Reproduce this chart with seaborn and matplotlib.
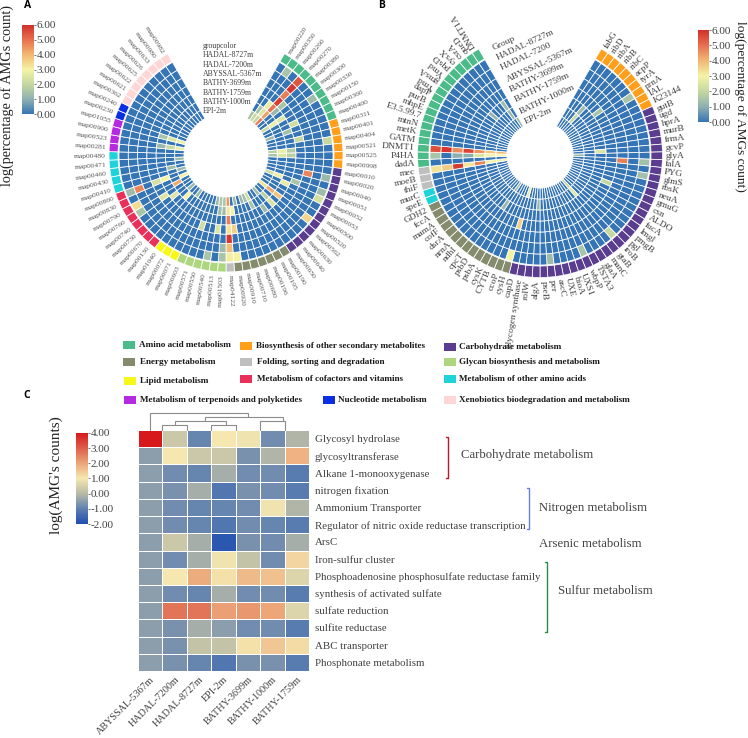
import numpy as np
import pandas as pd
import seaborn as sns
import matplotlib.pyplot as plt
from matplotlib.cm import ScalarMappable
from matplotlib.colors import Normalize
from matplotlib.patches import Rectangle

SERIF = 'Liberation Serif'
TEXT_GRAY = '#404040'

# groups, in the order they go round the circles
group_names = ['Amino acid metabolism', 'Biosynthesis of other secondary metabolites', 'Carbohydrate metabolism',
               'Energy metabolism', 'Folding, sorting and degradation', 'Glycan biosynthesis and metabolism',
               'Lipid metabolism', 'Metabolism of cofactors and vitamins', 'Metabolism of other amino acids',
               'Metabolism of terpenoids and polyketides', 'Nucleotide metabolism',
               'Xenobiotics biodegradation and metabolism']
group_colors = ['#4cbb8a', '#ff9f1c', '#5b3d8f', '#858c6e', '#bfbfbf', '#aed67f',
                '#f7f71a', '#e8305a', '#1fd3d8', '#b52ade', '#0a2fe0', '#ffd6d6']

depths = ['HADAL-8727m', 'HADAL-7200m', 'ABYSSAL-5367m', 'BATHY-3699m', 'BATHY-1759m', 'BATHY-1000m', 'EPI-2m']

# panel A
a_labels = ['map00220', 'map00350', 'map00260', 'map00270', 'map00380', 'map00300', 'map00330', 'map00150',
            'map00360', 'map00400', 'map00311', 'map00401', 'map00404', 'map00521', 'map00525', 'map00998',
            'map00010', 'map00020', 'map00040', 'map00051', 'map00052', 'map00053', 'map00500', 'map00520',
            'map00562', 'map00630', 'map00640', 'map00650', 'map00190', 'map00195', 'map00196', 'map00680',
            'map00710', 'map00910', 'map00920', 'map04122', 'map01503', 'map00513', 'map00540', 'map00550',
            'map00571', 'map00603', 'map00071', 'map00072', 'map01040', 'map00130', 'map00670', 'map00730',
            'map00740', 'map00760', 'map00790', 'map00830', 'map00860', 'map00410', 'map00430', 'map00460',
            'map00471', 'map00480', 'map00281', 'map00523', 'map00900', 'map01055', 'map00230', 'map00240',
            'map00362', 'map00621', 'map00622', 'map00625', 'map00626', 'map00633', 'map00980', 'map00982']
a_group_counts = [10, 6, 12, 7, 1, 6, 3, 8, 5, 4, 2, 8]

# cells that are not background, sector number -> value
a_hadal_8727 = {1: 1.5, 3: 5.4, 6: 1.3, 12: 2.0, 17: 1.2, 19: 1.3, 20: 2.3, 23: 3.5, 34: 3.0, 35: 3.1,
                36: 1.5, 38: 1.5, 49: 1.5, 50: 3.4, 52: 1.3}
a_hadal_7200 = {3: 5.9, 35: 3.9, 36: 1.3, 52: 4.7}
a_abyssal_5367 = {3: 4.8, 17: 4.7, 35: 5.9}
a_bathy_3699 = {3: 5.8, 4: 1.5, 8: 2.2, 11: 2.0, 19: 1.5, 34: 3.6, 35: 3.3, 37: 2.5, 40: 2.2, 49: 2.5, 52: 2.3}
a_bathy_1759 = {2: 2.8, 3: 4.9, 4: 1.2, 6: 2.5, 9: 1.4, 13: 1.7, 14: 1.8, 20: 2.7, 23: 3.8, 25: 2.5, 27: 1.3,
                35: 4.8, 48: 2.5, 52: 3.0, 59: 1.2, 61: 1.5}
a_bathy_1000 = {1: 1.5, 2: 2.5, 3: 4.3, 6: 2.8, 13: 2.8, 14: 2.5, 19: 2.8, 23: 4.2, 25: 1.8, 29: 1.5, 34: 3.0,
                35: 3.2, 36: 1.3, 37: 1.3, 46: 3.0, 50: 4.2, 54: 1.3, 59: 2.0, 61: 2.5}
a_epi_2 = {0: 1.5, 1: 2.0, 2: 2.0, 3: 4.8, 6: 2.2, 9: 1.3, 13: 1.8, 14: 1.5, 19: 2.2, 23: 3.3, 26: 1.3, 29: 2.2,
           30: 1.3, 31: 1.2, 33: 1.2, 35: 4.5, 36: 1.5, 37: 1.5, 38: 1.3, 44: 1.3, 47: 1.2, 51: 3.0, 53: 1.2,
           56: 1.3, 59: 2.8, 61: 2.8}
a_rings = [a_hadal_8727, a_hadal_7200, a_abyssal_5367, a_bathy_3699, a_bathy_1759, a_bathy_1000, a_epi_2]

# panel B
b_labels = ['fabG', 'ribD', 'ribA', 'ribB', 'ribC', 'acpP', 'tyrA', 'prnA', 'IAL', 'K23144',
            'gutB', 'ugd', 'hprA', 'murB', 'frmA', 'gcvP', 'glyA', 'falA', 'PYG', 'glmS', 'rbsK', 'neuA',
            'gmuG', 'csn', 'ALDO', 'fucA', 'lmgl', 'pmgB', 'pgl', 'iroB', 'gtaB', 'manC', 'glaA', 'TSTA3',
            'wbpP', 'UXS1', 'bioA', 'UXE', 'ascC', 'per', 'pseB', 'algA', 'rolW', 'glycogen synthase', 'capD',
            'cysH', 'ccoP', 'CYTB', 'cysK', 'psbA', 'psbD', 'cpcT', 'ndhI', 'nrnA', 'dsrA', 'cofF', 'mamA',
            'fccA', 'GDH2', 'speE', 'murC', 'thiF', 'moeB', 'mec', 'dadA', 'P4HA', 'DNMT1', 'GATM', 'metK',
            'mtnN', 'E3.5.99.7', 'mhpE', 'purB', 'dapF', 'Ymd', 'gmsA', 'Ymd', 'pqsD', 'cysX', 'csrA', 'queD',
            'DNMT1A']
b_group_names = [1, 2, 3, 8, 4, 0]
b_group_counts = [10, 35, 14, 2, 3, 18]

b_hadal_8727 = {7: 1.5, 17: 1.4, 19: 1.4, 29: 2.0, 34: 1.5, 39: 1.3, 45: 3.0, 63: 3.3, 65: 1.5, 66: 5.5}
b_hadal_7200 = {63: 3.7, 66: 5.9}
b_abyssal_5367 = {17: 4.8, 63: 5.8, 65: 1.0, 66: 4.6}
b_bathy_3699 = {6: 1.5, 22: 2.0, 45: 3.6, 63: 3.2, 65: 1.0, 66: 5.7}
b_bathy_1759 = {3: 1.3, 15: 2.5, 50: 1.2, 63: 4.7, 65: 2.5, 66: 4.5, 76: 1.2, 80: 1.3}
b_bathy_1000 = {3: 2.0, 29: 2.5, 41: 1.2, 63: 3.0, 65: 3.0, 66: 3.8, 80: 1.2}
b_epi_2 = {16: 1.3, 29: 2.0, 45: 2.8, 50: 1.3, 63: 3.0, 65: 3.0, 66: 4.0, 81: 1.2}
b_rings = [b_hadal_8727, b_hadal_7200, b_abyssal_5367, b_bathy_3699, b_bathy_1759, b_bathy_1000, b_epi_2]

# panel C
c_columns = ['ABYSSAL-5367m', 'HADAL-7200m', 'HADAL-8727m', 'EPI-2m', 'BATHY-3699m', 'BATHY-1000m', 'BATHY-1759m']
c_rows = ['Glycosyl hydrolase', 'glycosyltransferase', 'Alkane 1-monooxygenase', 'nitrogen fixation',
          'Ammonium Transporter', 'Regulator of nitric oxide reductase transcription', 'ArsC', 'Iron-sulfur cluster',
          'Phosphoadenosine phosphosulfate reductase family', 'synthesis of activated sulfate', 'sulfate reduction',
          'sulfite reductase', 'ABC transporter', 'Phosphonate metabolism']
c_values = [[4.0, 0.3, -0.9, 1.0, 0.9, -0.8, -0.1],
            [-0.5, 1.0, 0.3, 0.3, -0.7, -0.1, 1.8],
            [-0.5, -0.8, -0.9, -0.2, -0.8, -0.8, -1.1],
            [-0.5, -0.7, -0.2, -1.2, -0.7, -0.8, -1.1],
            [-0.5, -0.8, -0.9, -0.9, -0.8, 0.9, -0.1],
            [-0.5, -0.8, -0.9, -1.2, -0.8, -0.9, -1.1],
            [-0.5, 0.3, -0.2, -1.8, -0.7, -0.8, -0.2],
            [-0.5, -0.8, -0.2, 0.9, 0.2, -0.8, 1.3],
            [-0.5, 1.0, 1.9, 1.1, 1.7, 1.6, 0.6],
            [-0.5, -0.8, -0.9, -0.2, -0.8, -0.8, -1.1],
            [-0.5, 2.7, 2.7, 2.1, 2.2, 2.0, 0.6],
            [-0.5, -0.7, -0.2, -0.5, -0.8, -0.8, -1.1],
            [-0.5, -0.7, 0.2, 0.2, 1.1, 1.5, 1.2],
            [-0.5, -0.7, -0.9, -1.2, -0.7, -0.7, -1.1]]

# dendrogram above panel C: left x, right x, height, and where each leg starts
c_merges = [(0.5, 4.5, 16.7, 0, 12.7), (2.75, 5.95, 12.7, 9.3, 9.3), (1.5, 3.6, 9.3, 4.7, 4.7),
            (1.0, 2.0, 4.7, 0, 0), (3.0, 4.0, 4.7, 0, 0), (5.0, 6.0, 9.3, 0, 0)]

sns.set_theme(style='white', rc={'font.family': SERIF})

W, H = 748, 738
fig = plt.figure(figsize=(W / 100, H / 100), dpi=100)
page = fig.add_axes([0, 0, 1, 1])
page.set_xlim(0, W)
page.set_ylim(H, 0)
page.axis('off')

ring_cmap = sns.blend_palette(['#3575b5', '#8fb0b0', '#c5d8a0', '#f5f3a5', '#f2b872', '#e8704f', '#d3302a'], n_colors=256, as_cmap=True)
c_cmap = sns.blend_palette(['#1f4eb0', '#5f80b0', '#b8baa6', '#f5e8b0', '#eca678', '#de5f4a', '#d7191c'], n_colors=256, as_cmap=True)


def pixel_axes(x0, y0, x1, y1, **kwargs):
    return fig.add_axes([x0 / W, 1 - y1 / H, (x1 - x0) / W, (y1 - y0) / H], **kwargs)


def circle_panel(cx, cy, inner, ring_top, band_bottom, outer, labels, rings, colors, flip_from, label_size, label_color):
    n = len(labels)
    ax = pixel_axes(cx - outer, cy - outer, cx + outer, cy + outer, projection='polar')
    ax.set_theta_zero_location('N')
    ax.set_theta_direction(-1)
    width = 300 / n
    degrees = 30 + (np.arange(n) + 0.5) * width
    theta = np.radians(degrees)

    values = pd.DataFrame(rings, columns=range(n)).fillna(0).to_numpy()
    radii = np.linspace(ring_top, inner, len(rings) + 1)
    norm = Normalize(0, 6)
    for row, top, bottom in zip(values, radii[:-1], radii[1:]):
        ax.bar(theta, top - bottom, width=np.radians(width), bottom=bottom, color=ring_cmap(norm(row)),
               edgecolor='white', linewidth=0.55)
    ax.bar(theta, outer - band_bottom, width=np.radians(width), bottom=band_bottom, color=colors,
           edgecolor='white', linewidth=0.55)
    ax.set_ylim(0, outer)
    ax.axis('off')

    for label, deg in zip(labels, degrees):
        angle = 90 - deg
        if deg <= 180:
            rotation, ha = angle, 'left'
        elif deg < flip_from:
            rotation, ha = angle + 180, 'right'
        else:
            rotation, ha = angle + 360, 'left'
        ax.text(np.radians(deg), outer + 3, label, rotation=rotation, rotation_mode='anchor', ha=ha, va='center',
                fontsize=label_size, color=label_color, family=SERIF)


def ring_colorbar(x0, y0, x1, y1, cmap, vmin, vmax):
    cax = pixel_axes(x0, y0, x1, y1)
    cb = fig.colorbar(ScalarMappable(Normalize(vmin, vmax), cmap), cax=cax, ticks=np.arange(vmin, vmax + 1), format='%.2f')
    cb.outline.set_visible(False)
    cb.ax.tick_params(labelsize=8, length=1.5, width=0.5, pad=0.5, colors=TEXT_GRAY, right=True)


a_colors = np.repeat(group_colors, a_group_counts).tolist()
circle_panel(226, 155, 42, 107, 108, 117, a_labels, a_rings, a_colors, 999, 5.4, '#555555')

b_colors = np.repeat([group_colors[i] for i in b_group_names], b_group_counts).tolist()
circle_panel(540, 155, 33, 110, 111, 122.5, b_labels, b_rings, b_colors, 300, 6.8, TEXT_GRAY)

# heatmap C, the columns are already in cluster order
ax_c = pixel_axes(138, 430, 309, 671)
c_frame = pd.DataFrame(c_values, index=c_rows, columns=c_columns)
sns.heatmap(c_frame, ax=ax_c, cmap=c_cmap, vmin=-2, vmax=4, linewidths=0.7, linecolor='white', cbar=False, square=False)
ax_c.tick_params(axis='both', length=0, labelcolor=TEXT_GRAY)
ax_c.yaxis.tick_right()
ax_c.set_yticklabels(c_rows, rotation=0, fontsize=7.8, family=SERIF)
ax_c.set_xticklabels(c_columns, rotation=45, ha='right', rotation_mode='anchor', fontsize=7.3, family=SERIF)
ax_c.tick_params(axis='y', pad=4)
ax_c.tick_params(axis='x', pad=3)

dendro = pixel_axes(138, 413, 309, 430)
dendro.set_xlim(0, 7)
dendro.set_ylim(0, 16.7)
dendro.axis('off')
for left, right, height, left_base, right_base in c_merges:
    dendro.plot([left, left, right, right], [left_base, height, height, right_base], color='#8c8c8c', lw=0.8,
                solid_joinstyle='miter', clip_on=False)

# colour bars
ring_colorbar(22, 25, 34, 114, ring_cmap, 0, 6)
ring_colorbar(698, 30, 709, 122, ring_cmap, 0, 6)
ring_colorbar(76, 433, 88, 524, c_cmap, -2, 4)

page.text(7, 95, 'log(percentage of AMGs count)', rotation=90, fontsize=10.3, ha='center', va='center', color='#222222')
page.text(740, 106, 'log(percentage of AMGs count)', rotation=270, fontsize=9.6, ha='center', va='center', color='#222222')
page.text(56, 475, "log(AMG's counts)", rotation=90, fontsize=11, ha='center', va='center', color='#222222')

# ring keys in the gaps of the circles
for y, name in zip(np.arange(46, 112, 9.35), ['groupcolor'] + depths):
    page.text(203, y, name, fontsize=5.6, va='center', color=TEXT_GRAY)

b_key_pos = [(493, 48), (497, 58), (501, 68), (507, 80), (510, 90), (515, 100), (520, 112), (525, 122)]
for (x, y), name in zip(b_key_pos, ['Group'] + depths):
    page.text(x, y, name.replace('HADAL-7200m', 'HADAL-7200'), fontsize=6.8, rotation=25, rotation_mode='anchor',
              va='center', color=TEXT_GRAY)

# group legend
legend_rows = [(0, 123, 139, 345), (1, 240, 256, 346), (2, 444, 459, 347),
               (3, 123, 140, 362), (4, 240, 257, 362), (5, 444, 459, 362),
               (6, 124, 140, 381), (7, 240, 257, 379), (8, 444, 459, 379),
               (9, 124, 140, 400), (10, 323, 338, 400), (11, 444, 459, 400)]
for idx, sx, tx, y in legend_rows:
    page.add_patch(Rectangle((sx, y - 4), 12.5, 8, color=group_colors[idx], lw=0))
    page.text(tx, y, group_names[idx], fontsize=6.6, fontweight='bold', va='center', color='#1a1a1a')

# brackets and pathway names beside C
for x, y0, y1, color in [(448, 437, 478, '#c0152a'), (529, 488, 529, '#6a7fe0'), (547, 562, 632, '#2e8b40')]:
    page.plot([x - 2, x, x, x - 2], [y0, y0, y1, y1], color=color, lw=1.0)
for x, y, name in [(461, 455, 'Carbohydrate metabolism'), (539, 508, 'Nitrogen metabolism'),
                   (539, 544, 'Arsenic metabolism'), (558, 591, 'Sulfur metabolism')]:
    page.text(x, y, name, fontsize=9.2, va='center', color=TEXT_GRAY)

for x, y, letter in [(24, 6, 'A'), (378, 6, 'B'), (23, 396, 'C')]:
    page.text(x, y, letter, fontsize=7.5, fontweight='bold', family='Open Sans', va='center', color='black')

fig.savefig('out.png', dpi=100)
